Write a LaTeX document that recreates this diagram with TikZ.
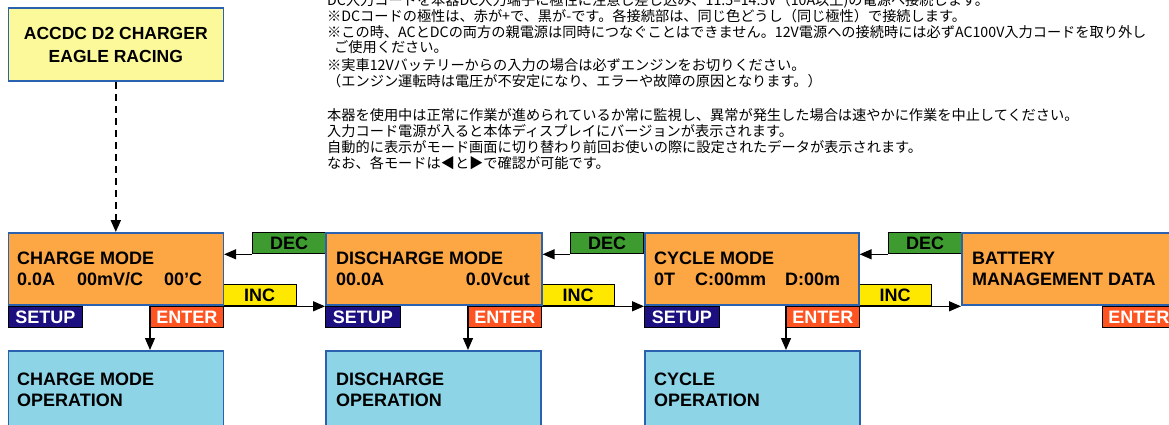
\documentclass[tikz,border=0pt]{standalone}
\usepackage{fontspec}
\setmainfont{Liberation Sans}
\newfontfamily\jp{Noto Sans CJK JP}
\usetikzlibrary{arrows.meta}
\definecolor{bordblue}{HTML}{2A62B0}
\definecolor{modeorange}{HTML}{FDA644}
\definecolor{opblue}{HTML}{8DD4E6}
\definecolor{titleyellow}{HTML}{FCF99A}
\definecolor{decgreen}{HTML}{3E9B30}
\definecolor{incyellow}{HTML}{FFE800}
\definecolor{setupnavy}{HTML}{1C0F80}
\definecolor{enterred}{HTML}{FF5421}
\begin{document}
\begin{tikzpicture}[x=1pt,y=-1pt,
  box/.style={draw=bordblue, line width=1.6pt, rectangle, inner sep=0pt, anchor=north west},
  modebox/.style={box, fill=modeorange, minimum height=72pt},
  opbox/.style={box, fill=opblue, minimum width=215pt, minimum height=85pt},
  lbl/.style={draw=black, line width=1.3pt, rectangle, inner sep=0pt, anchor=north west, minimum height=21pt, font=\fontsize{18}{18}\selectfont\bfseries},
  declbl/.style={lbl, fill=decgreen, text=black, minimum width=73pt},
  inclbl/.style={lbl, fill=incyellow, text=black, minimum width=73pt},
  setuplbl/.style={lbl, fill=setupnavy, text=white, minimum width=74.5pt},
  enterlbl/.style={lbl, fill=enterred, text=white, minimum width=72.5pt},
  txt/.style={anchor=base west, inner sep=0pt, font=\fontsize{18}{21}\selectfont\bfseries},
  jt/.style={anchor=base west, inner sep=0pt, font=\jp\fontsize{14.2}{16}\selectfont},
  arr/.style={-{Triangle[length=12pt,width=10pt]}, line width=1.3pt}
]
\useasboundingbox (0,0) rectangle (1169,425);

% Japanese notes
\node[jt] (j1) at (327,6) {DC入力コードを本器DC入力端子に極性に注意し差し込み、11.5–14.5V（10A以上)の電源へ接続します。};
\node[jt] (j2) at (327,22) {※DCコードの極性は、赤が+で、黒が-です。各接続部は、同じ色どうし（同じ極性）で接続します。};
\node[jt] (j3) at (327,38) {※この時、ACとDCの両方の親電源は同時につなぐことはできません。12V電源への接続時には必ずAC100V入力コードを取り外し};
\node[jt] (j4) at (334,53) {ご使用ください。};
\node[jt] (j5) at (327,71) {※実車12Vバッテリーからの入力の場合は必ずエンジンをお切りください。};
\node[jt] (j6) at (327,86.5) {（エンジン運転時は電圧が不安定になり、エラーや故障の原因となります。）};
\node[jt] (k1) at (327,120.5) {本器を使用中は正常に作業が進められているか常に監視し、異常が発生した場合は速やかに作業を中止してください。};
\node[jt] (k2) at (327,136.5) {入力コード電源が入ると本体ディスプレイにバージョンが表示されます。};
\node[jt] (k3) at (327,152.5) {自動的に表示がモード画面に切り替わり前回お使いの際に設定されたデータが表示されます。};
\node[jt] (k4) at (327,168) {なお、各モードは◀と▶で確認が可能です。};

% title
\node[box, fill=titleyellow, minimum width=215pt, minimum height=73pt, align=center,
      font=\fontsize{17.5}{22.4}\selectfont\bfseries] (title) at (7.5,7.5) {ACCDC D2 CHARGER\\EAGLE RACING};

% labels drawn first
\node[declbl] (dec1) at (252,232) {DEC};
\node[declbl] (dec2) at (570,232) {DEC};
\node[declbl] (dec3) at (888,232) {DEC};
\node[inclbl] (inc1) at (222.5,284) {INC};
\node[inclbl] (inc2) at (541,284) {INC};
\node[inclbl] (inc3) at (858,284) {INC};

% mode boxes
\node[modebox, minimum width=215pt] (charge) at (7.5,232) {};
\node[modebox, minimum width=216pt] (discharge) at (325,232) {};
\node[modebox, minimum width=214pt] (cycle) at (644,232) {};
\node[modebox, minimum width=240pt] (battery) at (961,232) {};

\node[setuplbl] (setup1) at (7.5,306) {SETUP};
\node[setuplbl] (setup2) at (325,306) {SETUP};
\node[setuplbl] (setup3) at (644,306) {SETUP};
\node[enterlbl] (enter1) at (150,306) {ENTER};
\node[enterlbl] (enter2) at (468,306) {ENTER};
\node[enterlbl] (enter3) at (786,306) {ENTER};
\node[enterlbl] (enter4) at (1102,306) {ENTER};

% mode texts
\node[txt] (ct1) at (17,264) {CHARGE MODE};
\node[txt] (ct2) at (17,285.7) {0.0A};
\node[txt] (ct3) at (77,285.7) {00mV/C};
\node[txt] (ct4) at (164,285.7) {00{\char"0027}C};
\node[txt] (dt1) at (336,264) {DISCHARGE MODE};
\node[txt] (dt2) at (336,285.7) {00.0A};
\node[txt, anchor=base east] (dt3) at (530,285.7) {0.0Vcut};
\node[txt] (yt1) at (654,264) {CYCLE MODE};
\node[txt] (yt2) at (654,285.7) {0T};
\node[txt] (yt3) at (695,285.7) {C:00mm};
\node[txt] (yt4) at (785,285.7) {D:00m};
\node[txt] (bt1) at (972,264) {BATTERY};
\node[txt] (bt2) at (972,285.7) {MANAGEMENT DATA};

% operation boxes
\node[opbox] (chop) at (7.5,350) {};
\node[opbox] (disop) at (325,350) {};
\node[opbox] (cyop) at (644,350) {};
\node[txt] (ot1) at (17,385) {CHARGE MODE};
\node[txt] (ot2) at (17,406) {OPERATION};
\node[txt] (ot3) at (336,385) {DISCHARGE};
\node[txt] (ot4) at (336,406) {OPERATION};
\node[txt] (ot5) at (654,385) {CYCLE};
\node[txt] (ot6) at (654,406) {OPERATION};

% connectors
\draw[arr, dashed, dash pattern=on 7pt off 5pt, line width=2pt] (title.south) -- (charge.north);
\draw[arr] (dec1.south west) -- (dec1.south west -| charge.east);
\draw[arr] (dec2.south west) -- (dec2.south west -| discharge.east);
\draw[arr] (dec3.south west) -- (dec3.south west -| cycle.east);
\draw[arr] (inc1.south west) -- (inc1.south west -| discharge.west);
\draw[arr] (inc2.south west) -- (inc2.south west -| cycle.west);
\draw[arr] (inc3.south west) -- (inc3.south west -| battery.west);
\draw[arr] (charge.south -| enter1.west) -- (chop.north -| enter1.west);
\draw[arr] (discharge.south -| enter2.west) -- (disop.north -| enter2.west);
\draw[arr] (cycle.south -| enter3.west) -- (cyop.north -| enter3.west);
\end{tikzpicture}
\end{document}
